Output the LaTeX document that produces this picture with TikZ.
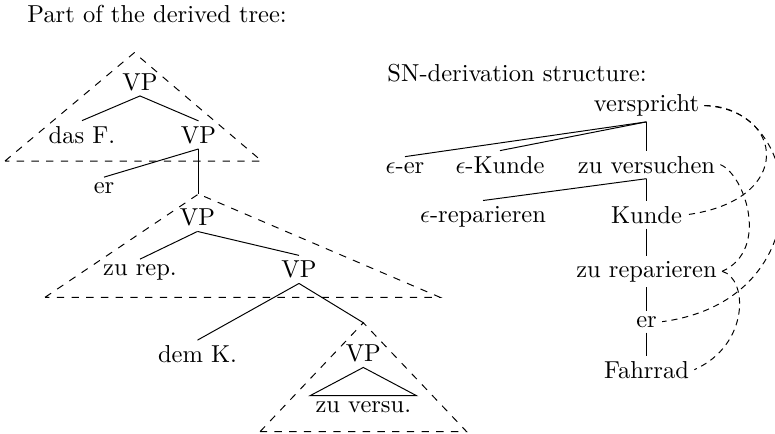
\documentclass[tikz,border=0pt]{standalone}
\begin{document}
\begin{tikzpicture}[x=0.408pt,y=-0.408pt,
  lbl/.style={inner sep=2pt, anchor=base},
  ttl/.style={inner sep=0pt, anchor=base west},
  tri/.style={dashed},
  link/.style={dash pattern=on 2.5pt off 2pt}]
\useasboundingbox (0,0) rectangle (775,433);
% titles
\node[ttl] (t1) at (27,22) {Part of the derived tree:};
\node[ttl] (t2) at (387,81) {SN-derivation structure:};
% ---------- derived tree ----------
\coordinate (a1) at (134.3,52.7);
\coordinate (l1) at (5,161);
\coordinate (r1) at (261.7,161);
\draw[tri] (l1) -- (a1) -- (r1) -- cycle;
\node[lbl] (vp1) at (140,90) {VP};
\node[lbl] (dasf) at (82,143) {das F.};
\node[lbl] (vp2) at (198.5,143) {VP};
\node[lbl] (er1) at (104,193.5) {er};
\draw (vp1.south) -- (dasf.north);
\draw (vp1.south) -- (vp2.north);
\draw (vp2.south) -- (er1.north);
\coordinate (a2) at (198.5,194);
\coordinate (l2) at (45,297.3);
\coordinate (r2) at (440,297.3);
\draw (vp2.south) -- (a2);
\draw[tri] (l2) -- (a2) -- (r2) -- cycle;
\node[lbl] (vp3) at (197.5,225.5) {VP};
\node[lbl] (zurep1) at (140,275.5) {zu rep.};
\node[lbl] (vp4) at (299,277.5) {VP};
\draw (vp3.south) -- (zurep1.north);
\draw (vp3.south) -- (vp4.north);
\node[lbl] (demk) at (197.5,362.5) {dem K.};
\coordinate (a3) at (363.3,322.7);
\coordinate (l3) at (260,431.7);
\coordinate (r3) at (466.7,431.7);
\draw (vp4.south) -- (demk.north);
\draw (vp4.south) -- (a3);
\draw[tri] (l3) -- (a3) -- (r3) -- cycle;
\node[lbl] (vp5) at (363.3,361.5) {VP};
\node[lbl] (zv) at (363.3,412) {zu versu.};
\draw (vp5.south) -- (zv.north west) -- (zv.north east) -- cycle;
% ---------- derivation structure ----------
\node[lbl] (vers) at (646.5,111.7) {verspricht};
\node[lbl] (eer) at (405,173) {$\epsilon$-er};
\node[lbl] (ekunde) at (500,173) {$\epsilon$-Kunde};
\node[lbl] (zuv) at (646.5,173) {zu versuchen};
\node[lbl] (erep) at (483,222) {$\epsilon$-reparieren};
\node[lbl] (kunde) at (646.5,223) {Kunde};
\node[lbl] (zurep) at (646.5,277) {zu reparieren};
\node[lbl] (er2) at (646.5,327) {er};
\node[lbl] (fahr) at (646.5,378) {Fahrrad};
\draw (vers.south) -- (eer.north);
\draw (vers.south) -- (ekunde.north);
\draw (vers.south) -- (zuv.north);
\draw (zuv.south) -- (erep.north);
\draw (zuv.south) -- (kunde.north);
\draw (kunde.south) -- (zurep.north);
\draw (zurep.south) -- (er2.north);
\draw (er2.south) -- (fahr.north);
% links
\draw[link] (vers.east) .. controls (785,110) and (795,200) .. (kunde.east);
\draw[link] (vers.east) .. controls (805,105) and (825,300) .. (er2.east);
\draw[link] (zuv.east) .. controls (745,175) and (770,250) .. (zurep.east);
\draw[link] (zurep.east) .. controls (748,278) and (750,345) .. (fahr.east);
\end{tikzpicture}
\end{document}
